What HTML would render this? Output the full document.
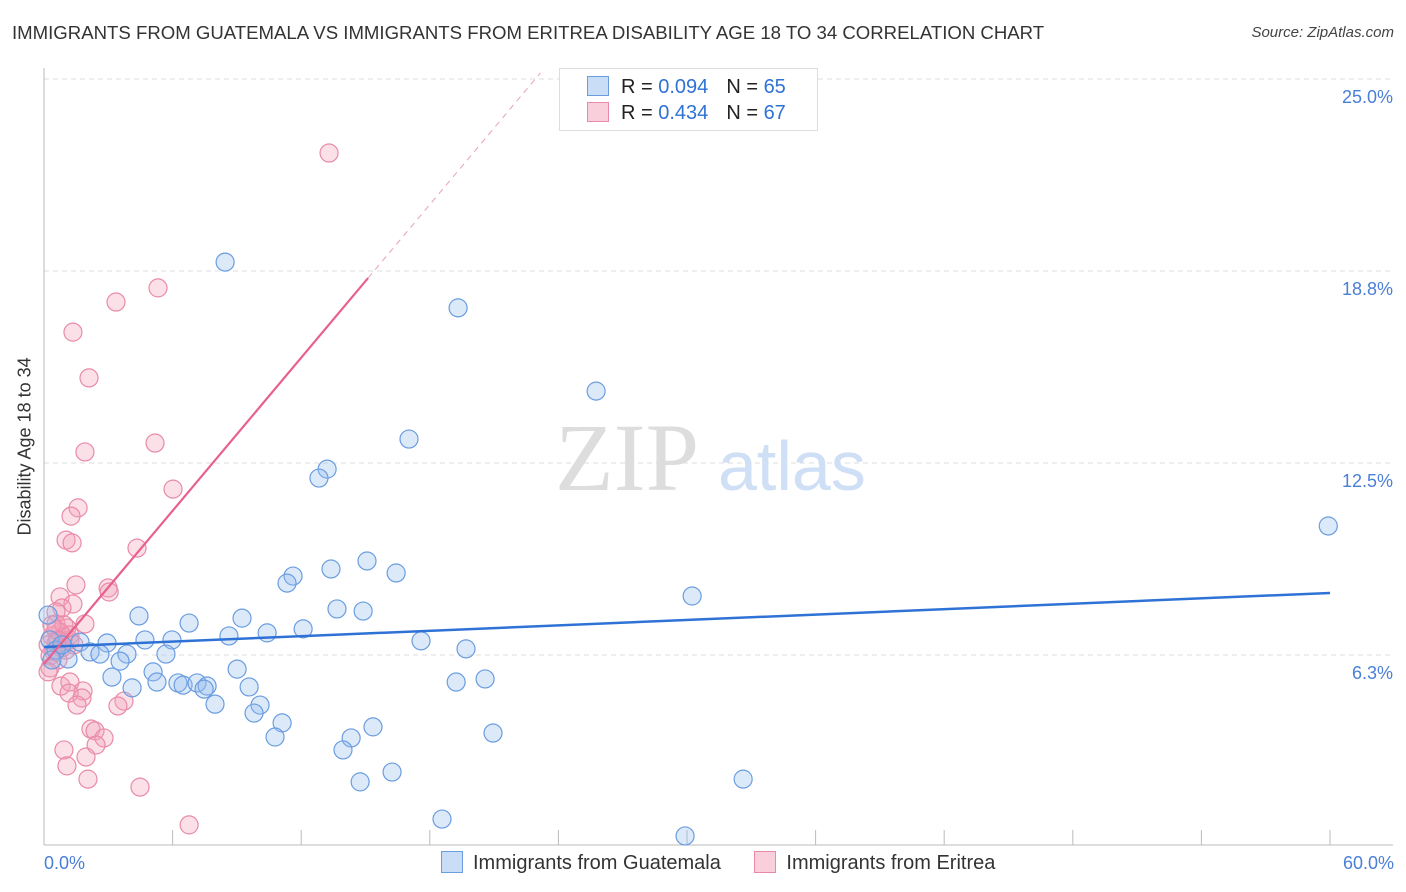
<!DOCTYPE html>
<html><head><meta charset="utf-8">
<style>
body{margin:0;background:#fff;font-family:"Liberation Sans",sans-serif;}
#wrap{position:relative;width:1406px;height:892px;overflow:hidden;}
.t{position:absolute;white-space:nowrap;}
</style></head>
<body>
<div id="wrap">
<div class="t" style="left:12px;top:22px;font-size:18.6px;color:#333;">IMMIGRANTS FROM GUATEMALA VS IMMIGRANTS FROM ERITREA DISABILITY AGE 18 TO 34 CORRELATION CHART</div>
<div class="t" style="right:12px;top:24px;font-size:15px;color:#444;font-style:italic;">Source: ZipAtlas.com</div>
<svg id="svg" width="1406" height="892" style="position:absolute;left:0;top:0"></svg>
</div>
<script>
const blueX=[8.45,19.32,25.76,17.03,13.21,12.83,59.92,15.07,13.39,16.43,11.62,11.34,30.24,13.67,14.89,4.43,9.24,6.77,12.09,10.41,8.63,5.97,4.71,2.94,1.68,17.59,2.15,2.61,3.87,5.69,19.69,3.55,1.12,5.09,9.01,3.17,20.58,19.23,5.27,6.25,6.49,7.14,7.61,4.11,9.57,7.47,10.08,7.98,9.80,11.11,15.35,14.33,10.78,20.95,13.95,16.24,32.62,14.75,18.57,29.91,0.19,0.28,0.56,0.37,0.84];
const blueY=[19.04,17.55,14.84,13.28,12.30,12.01,10.45,9.31,9.05,8.92,8.82,8.59,8.17,7.75,7.68,7.52,7.45,7.29,7.10,6.97,6.87,6.74,6.74,6.64,6.67,6.71,6.35,6.28,6.28,6.28,6.45,6.05,6.12,5.70,5.79,5.53,5.47,5.37,5.37,5.34,5.27,5.34,5.24,5.18,5.21,5.14,4.62,4.65,4.36,4.04,3.91,3.55,3.58,3.71,3.16,2.44,2.21,2.12,0.91,0.36,7.55,6.74,6.41,6.09,6.58];
const pinkX=[13.30,5.32,3.36,1.35,2.10,5.18,1.91,6.02,1.59,1.26,1.03,1.31,4.34,1.49,2.99,3.04,0.75,1.35,0.84,0.56,1.91,0.56,1.07,0.75,0.37,0.93,1.21,0.56,0.19,0.84,0.47,1.03,0.28,0.65,0.28,0.19,0.79,1.21,1.82,1.17,1.77,1.54,3.73,3.45,2.19,2.38,2.80,2.43,0.93,1.96,1.07,2.05,4.48,6.77,0.56,0.93,1.21,0.65,0.37,1.40];
const pinkY=[22.59,18.20,17.74,16.76,15.27,13.15,12.86,11.65,11.04,10.77,9.99,9.90,9.73,8.53,8.43,8.30,8.14,7.91,7.78,7.65,7.26,7.26,7.13,7.00,6.87,6.84,6.74,6.64,6.58,6.48,6.35,6.41,6.22,6.09,5.83,5.70,5.24,5.37,5.08,5.01,4.85,4.62,4.75,4.59,3.84,3.78,3.55,3.32,3.16,2.93,2.64,2.21,1.95,0.72,7.06,7.23,6.90,6.74,7.23,6.58];
const yTicks=[6.25,12.5,18.75,25];
const yTickLabels=["6.3%","12.5%","18.8%","25.0%"];
const blueTrend=[6.51,8.27];
const pinkTrend=[5.96,18.52];
const pinkTrendEnd=15.12;

const X=v=>44+v/60*1286, Y=v=>847-v/6.25*192;
const svg=document.getElementById('svg');const NS='http://www.w3.org/2000/svg';
function mk(tag,attrs,parent){const e=document.createElementNS(NS,tag);for(const k in attrs)e.setAttribute(k,attrs[k]);(parent||svg).appendChild(e);return e;}
yTicks.forEach((t,i)=>{
 const g=mk('line',{x1:44,x2:1393,y1:Y(t),y2:Y(t),stroke:'#ddd','stroke-dasharray':'5,4'});
 
 
 const tx=mk('text',{x:1393,y:Y(t)+24,'text-anchor':'end','font-size':18,fill:'#4a7fd6','font-family':'Liberation Sans'});
 tx.textContent=yTickLabels[i];
 
 
});
const ax=mk('line',{x1:44,x2:44,y1:68,y2:845,stroke:'#bbb'});


const bx=mk('line',{x1:44,x2:1393,y1:845,y2:845,stroke:'#bbb'});


for(let i=1;i<=10;i++){const tk=mk('line',{x1:X(i*6),x2:X(i*6),y1:830,y2:845,stroke:'#bbb'});
 
 }
const wm=mk('text',{x:555,y:490,'font-size':96,fill:'#ddd','font-family':'Liberation Serif'});wm.textContent='ZIP';


const wm2=mk('text',{x:718,y:490,'font-size':70,fill:'#cfdff5','font-family':'Liberation Sans'});wm2.textContent='atlas';


function pts(xs,ys,fill,stroke,name){xs.forEach((x,i)=>{const c=mk('circle',{cx:X(x),cy:Y(ys[i]),r:9,fill:fill,stroke:stroke,'stroke-width':1.2});
 
 });}
pts(pinkX,pinkY,'rgba(244,160,186,0.33)','#e98aa9','eritrea-point');
pts(blueX,blueY,'rgba(150,188,238,0.33)','#6a9de0','guatemala-point');
const bl=mk('line',{x1:X(0),y1:Y(blueTrend[0]),x2:X(60),y2:Y(blueTrend[1]),stroke:'#2f72d6','stroke-width':2.5});


const slope=(pinkTrend[1]-pinkTrend[0])/pinkTrendEnd;
const pl=mk('line',{x1:X(0),y1:Y(pinkTrend[0]),x2:X(pinkTrendEnd),y2:Y(pinkTrend[1]),stroke:'#e8608f','stroke-width':2.2});


const xe=(25.2-pinkTrend[0])/slope;
const pd=mk('line',{x1:X(pinkTrendEnd),y1:Y(pinkTrend[1]),x2:X(xe),y2:Y(25.2),stroke:'#e8a0b8','stroke-width':1,'stroke-dasharray':'6,5'});


</script>
<div class="t" style="left:-55px;top:445px;font-size:18px;color:#333;transform:rotate(-90deg);width:160px;text-align:center;">Disability Age 18 to 34</div>
<div class="t" style="left:44px;top:853px;font-size:18px;color:#4a7fd6;">0.0%</div>
<div class="t" style="right:12px;top:853px;font-size:18px;color:#4a7fd6;">60.0%</div>
<div style="position:absolute;left:559px;top:68px;width:257px;height:61px;border:1px solid #ddd;background:#fff;font-size:20px;">
 <div style="position:absolute;left:27px;top:7px;white-space:nowrap;"><span style="display:inline-block;width:20px;height:18px;background:rgba(150,188,238,0.5);border:1px solid #6a9de0;vertical-align:-3px;margin-right:12px;"></span><span style="color:#222">R = </span><span style="color:#2f72d6">0.094</span><span style="color:#222;margin-left:18px">N = </span><span style="color:#2f72d6">65</span></div>
 <div style="position:absolute;left:27px;top:33px;white-space:nowrap;"><span style="display:inline-block;width:20px;height:18px;background:rgba(244,160,186,0.5);border:1px solid #e98aa9;vertical-align:-3px;margin-right:12px;"></span><span style="color:#222">R = </span><span style="color:#2f72d6">0.434</span><span style="color:#222;margin-left:18px">N = </span><span style="color:#2f72d6">67</span></div>
</div>
<div style="position:absolute;left:441px;top:851px;font-size:20px;color:#333;white-space:nowrap;">
 <span><span style="display:inline-block;width:20px;height:20px;background:rgba(150,188,238,0.5);border:1px solid #6a9de0;vertical-align:-4px;margin-right:10px;"></span>Immigrants from Guatemala</span>
 <span style="margin-left:28px"><span style="display:inline-block;width:20px;height:20px;background:rgba(244,160,186,0.5);border:1px solid #e98aa9;vertical-align:-4px;margin-right:10px;"></span>Immigrants from Eritrea</span>
</div>
</body></html>
